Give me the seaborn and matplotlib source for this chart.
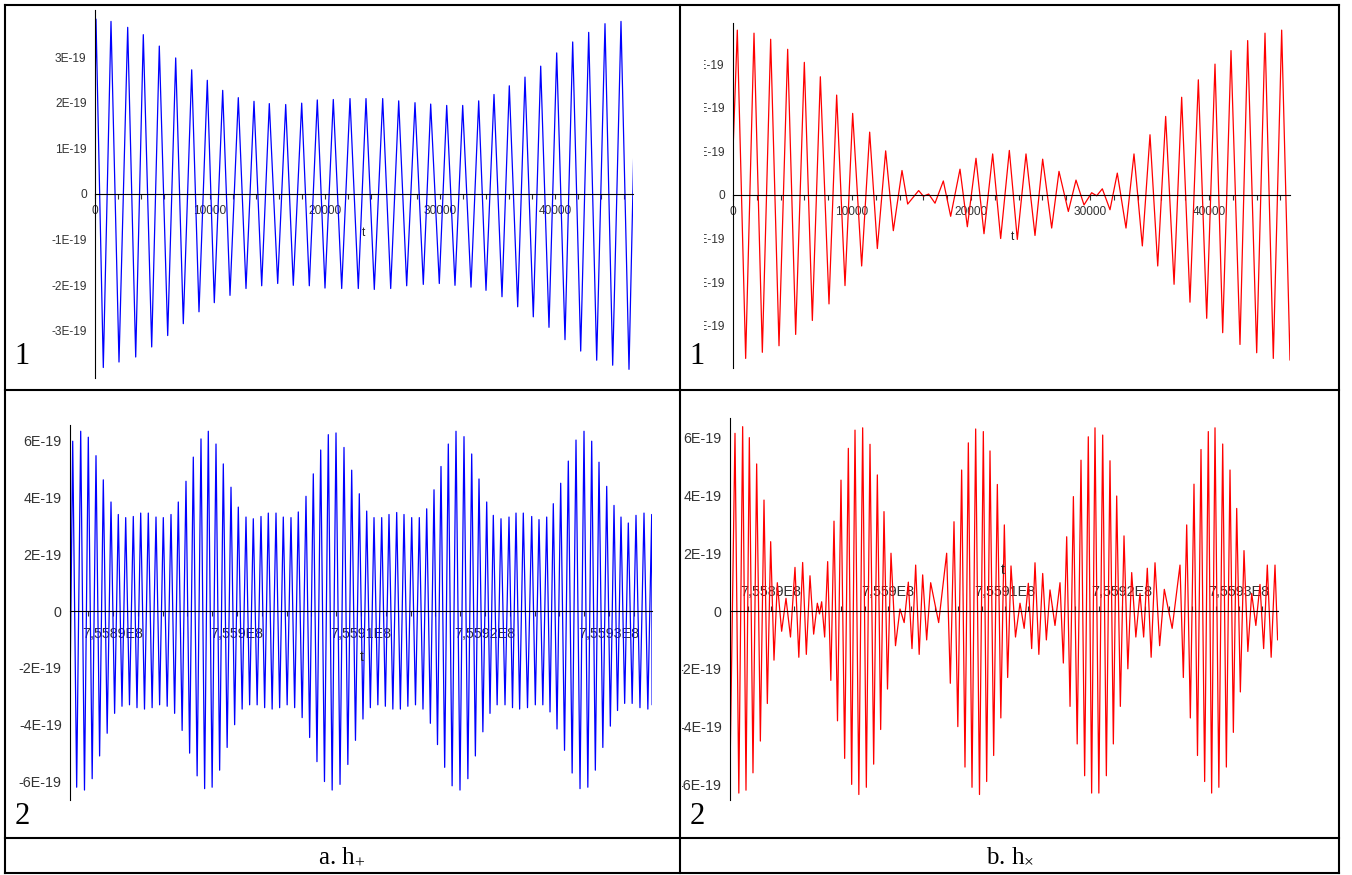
import numpy as np
import pandas as pd
import seaborn as sns
import matplotlib.pyplot as plt
from matplotlib.lines import Line2D
from matplotlib.ticker import FixedLocator, FixedFormatter
from matplotlib.transforms import Bbox

# amplitudes in units of 1E-19 (local maxima / minima)
# panel a.1  (h+, t from 0)
tl_max_t = [87, 1391, 2843, 4200, 5591, 7017, 8409, 9765, 11104, 12461, 13826, 15157, 16583, 17974,
            19330, 20722, 22174, 23565, 25017, 26409, 27826, 29191, 30583, 31974, 33365, 34696,
            36026, 37391, 38757, 40148, 41539, 42930, 44348, 45739]
tl_max_h = [3.83, 3.78, 3.65, 3.49, 3.24, 2.98, 2.72, 2.49, 2.27, 2.11, 2.03, 1.98, 1.96, 1.99,
            2.06, 2.07, 2.09, 2.09, 2.09, 2.04, 2.00, 1.97, 1.94, 1.94, 2.04, 2.18, 2.37, 2.56,
            2.80, 3.09, 3.33, 3.54, 3.73, 3.78]
tl_min_t = [722, 2087, 3539, 4930, 6322, 7678, 9043, 10374, 11739, 13130, 14496, 15887, 17243,
            18635, 20000, 21452, 22896, 24287, 25713, 27104, 28548, 29939, 31304, 32696, 34000,
            35391, 36757, 38113, 39478, 40870, 42235, 43626, 45017, 46435]
tl_min_h = [-3.80, -3.68, -3.57, -3.35, -3.10, -2.84, -2.58, -2.38, -2.22, -2.07, -2.01, -1.96,
            -2.00, -2.01, -2.06, -2.07, -2.07, -2.09, -2.07, -2.01, -1.98, -1.96, -2.00, -2.04,
            -2.11, -2.25, -2.47, -2.69, -2.92, -3.19, -3.44, -3.64, -3.75, -3.84]
tl_end_t = [0, 46850]
tl_end_h = [2.1, 0.93]

# panel b.1  (hx, t from 0)
tr_max_t = [361, 1765, 3165, 4594, 5994, 7340, 8711, 10056, 11485, 12829, 14202, 15602, 16443,
            17675, 19076, 20420, 21821, 23221, 24622, 26022, 27395, 28824, 30140, 31036, 32294,
            33697, 35042, 36358, 37703, 39104, 40504, 41849, 43250, 44706, 46107]
tr_max_h = [3.78, 3.71, 3.57, 3.34, 3.04, 2.71, 2.29, 1.87, 1.44, 1.01, 0.56, 0.10, 0.02, 0.32,
            0.59, 0.84, 0.94, 1.02, 0.94, 0.82, 0.54, 0.34, 0.05, 0.14, 0.50, 0.94, 1.38, 1.80,
            2.24, 2.64, 3.00, 3.31, 3.54, 3.71, 3.78]
tr_min_t = [1064, 2465, 3866, 5266, 6667, 8067, 9412, 10812, 12129, 13473, 14678, 16000, 16975,
            18291, 19692, 21092, 22493, 23893, 25378, 26779, 28179, 29496, 30560, 31681, 33025,
            34398, 35692, 37064, 38403, 39807, 41151, 42605, 44008, 45404, 46807]
tr_min_h = [-3.75, -3.61, -3.46, -3.20, -2.88, -2.50, -2.08, -1.63, -1.23, -0.82, -0.21, -0.03,
            -0.19, -0.49, -0.73, -0.89, -1.00, -1.02, -0.93, -0.76, -0.38, -0.23, -0.02, -0.34,
            -0.76, -1.17, -1.63, -2.05, -2.46, -2.83, -3.16, -3.43, -3.62, -3.75, -3.79]
tr_end_t = [0]
tr_end_h = [1.0]

# panels a.2 / b.2: t = T0 + offset
T0 = 7.5589e8
bl_max_t = [-3250, -2605, -1992, -1371, -782, -161, 427, 1024, 1637, 2234, 2847, 3468, 4057, 4678,
            5266, 5887, 6476, 7097, 7686, 8307, 8896, 9517, 10105, 10726, 11315, 11936, 12525,
            13146, 13734, 14355, 14944, 15565, 16154, 16751, 17364, 17985, 18630, 19251, 19864,
            20461, 21050, 21671, 22259, 22880, 23469, 24090, 24703, 25300, 25889, 26453, 27042,
            27663, 28308, 28929, 29518, 30139, 30671, 31292, 31937, 32502, 33090, 33768, 34357,
            34978, 35510, 36107, 36720, 37341, 37986, 38607, 39196, 39817, 40406, 40970, 41559,
            42180, 42825, 43446]
bl_max_h = [5.98, 6.33, 6.12, 5.47, 4.62, 3.84, 3.40, 3.29, 3.33, 3.45, 3.45, 3.31, 3.29, 3.40,
            3.84, 4.57, 5.42, 6.06, 6.33, 5.88, 5.18, 4.36, 3.66, 3.31, 3.25, 3.33, 3.45, 3.45,
            3.31, 3.29, 3.49, 4.04, 4.83, 5.67, 6.21, 6.27, 5.76, 4.96, 4.13, 3.52, 3.29, 3.29,
            3.40, 3.47, 3.40, 3.29, 3.29, 3.60, 4.27, 5.09, 5.88, 6.33, 6.14, 5.53, 4.65, 3.84,
            3.37, 3.25, 3.31, 3.45, 3.45, 3.33, 3.22, 3.31, 3.78, 4.50, 5.28, 6.02, 6.33, 5.98,
            5.24, 4.39, 3.72, 3.31, 3.10, 3.37, 3.45, 3.40]
bl_min_t = [-3468, -2930, -2300, -1680, -1080, -470, 130, 725, 1330, 1935, 2540, 3155, 3760, 4370,
            4970, 5575, 6180, 6785, 7390, 7995, 8600, 9205, 9810, 10415, 11020, 11625, 12230,
            12835, 13440, 14045, 14650, 15255, 15860, 16450, 17055, 17675, 18310, 18940, 19555,
            20160, 20755, 21360, 21965, 22570, 23175, 23780, 24395, 25000, 25595, 26170, 26750,
            27350, 27985, 28620, 29225, 29830, 30405, 30980, 31615, 32220, 32795, 33430, 34060,
            34665, 35245, 35810, 36415, 37030, 37665, 38295, 38900, 39505, 40110, 40690, 41265,
            41870, 42500, 43135, 43480]
bl_min_h = [-3.0,
            -6.2, -6.3, -5.9, -5.1, -4.3, -3.6, -3.35, -3.3, -3.4, -3.45,
            -3.4, -3.3, -3.35, -3.6, -4.2, -5.0, -5.8, -6.25, -6.2, -5.6,
            -4.8, -4.0, -3.45, -3.3, -3.3, -3.4, -3.45, -3.4, -3.3, -3.4,
            -3.75, -4.45, -5.3, -6.0, -6.3, -6.1, -5.4, -4.55, -3.8, -3.4,
            -3.3, -3.35, -3.45, -3.45, -3.35, -3.3, -3.45, -3.95, -4.7, -5.5,
            -6.15, -6.3, -5.9, -5.1, -4.25, -3.6, -3.3, -3.3, -3.4, -3.45,
            -3.4, -3.3, -3.3, -3.55, -4.15, -4.9, -5.7, -6.25, -6.2, -5.6,
            -4.8, -4.05, -3.5, -3.25, -3.25, -3.4, -3.45,
            -3.3]

br_max_t = [-3077, -2422, -1852, -1225, -598, -28, 541, 1282, 2051, 2706, 3333, 3960, 4330, 4843,
            5385, 5983, 6610, 7180, 7835, 8462, 9089, 9658, 10256, 11026, 11738, 12365, 12963,
            13647, 15014, 15641, 16295, 16866, 17493, 18148, 18718, 19345, 19943, 20513, 21282,
            21994, 22564, 23222, 23846, 24701, 25273, 25845, 26496, 27119, 27692, 28350, 28974,
            29546, 30171, 30829, 31538, 32162, 32821, 33616, 34957, 35530, 36153, 36752, 37376,
            37949, 38607, 39231, 39803, 40427, 41085, 41794, 42419, 43077]
br_max_h = [6.15, 6.38, 6.00, 5.09, 3.84, 2.40, 0.98, 0.44, 1.51, 1.68, 1.22, 0.27, 0.32, 1.71,
            3.11, 4.53, 5.63, 6.26, 6.34, 5.77, 4.71, 3.44, 2.00, 0.07, 1.00, 1.59, 1.25, 0.98,
            2.00, 3.09, 4.88, 5.82, 6.30, 6.21, 5.54, 4.38, 2.98, 1.56, 0.27, 0.96, 1.67, 1.30,
            0.73, 0.98, 2.57, 3.96, 5.22, 6.03, 6.34, 6.09, 5.20, 3.98, 2.60, 1.33, 0.61, 1.48,
            1.67, 0.75, 1.59, 2.98, 4.39, 5.59, 6.21, 6.34, 5.78, 4.88, 3.55, 2.09, 0.61, 0.92,
            1.59, 1.59]
br_min_t = [-3504, -2750, -2137, -1540, -910, -313, 256, 910, 1666, 2378, 3020, 3646, 4145, 4586,
            5114, 5684, 6296, 6895, 7507, 8148, 8775, 9373, 9957, 10641, 11382, 12051, 12664,
            13305, 14330, 15327, 15968, 16580, 17180, 17820, 18433, 19031, 19644, 20228, 20897,
            21638, 22279, 22893, 23534, 24273, 24987, 25559, 26170, 26807, 27405, 28021, 28662,
            29260, 29858, 30500, 31183, 31850, 32491, 33218, 34286, 35243, 35841, 36452, 37064,
            37662, 38278, 38919, 39517, 40115, 40756, 41440, 42106, 42748, 43300]
br_min_h = [-5.6, -6.3, -6.2, -5.6, -4.5, -3.2, -1.7, -0.7, -0.9, -1.6, -1.5, -0.8, -0.1, -0.9,
            -2.4, -3.8, -5.1, -6.0, -6.35, -6.1, -5.3, -4.1, -2.7, -1.2, -0.4, -1.3, -1.5, -1.0,
            -0.4, -2.5, -4.0, -5.4, -6.1, -6.35, -5.9, -5.0, -3.7, -2.3, -0.9, -0.6, -1.3, -1.5,
            -1.0, -0.5, -1.8, -3.3, -4.6, -5.7, -6.3, -6.3, -5.7, -4.6, -3.3, -2.0, -0.9, -0.9,
            -1.6, -1.2, -0.6, -2.3, -3.7, -5.0, -5.9, -6.3, -6.1, -5.4, -4.2, -2.8, -1.4, -0.5,
            -1.3, -1.6, -1.0]

top_xticks = [0, 10000, 20000, 30000, 40000]
top_xlabels = ["0", "10000", "20000", "30000", "40000"]
bot_xticks = [0, 10000, 20000, 30000, 40000]
bot_xlabels = ["7,5589E8", "7,559E8", "7,5591E8", "7,5592E8", "7,5593E8"]
top_yticks = [-3, -2, -1, 0, 1, 2, 3]
top_ylabels = ["-3E-19", "-2E-19", "-1E-19", "0", "1E-19", "2E-19", "3E-19"]
bot_yticks = [-6, -4, -2, 0, 2, 4, 6]
bot_ylabels = ["-6E-19", "-4E-19", "-2E-19", "0", "2E-19", "4E-19", "6E-19"]
captions = ["a. h$_{+}$", "b. h$_{\\times}$"]

sns.set_style("white")
plt.rcParams["font.family"] = ["Liberation Sans", "DejaVu Sans"]
plt.rcParams["mathtext.fontset"] = "custom"
plt.rcParams["mathtext.rm"] = "Liberation Serif"
plt.rcParams["mathtext.default"] = "rm"

W, H = 1352, 875
fig = plt.figure(figsize=(W / 100, H / 100), dpi=100)
fig.patch.set_facecolor("white")


def add_axes(x0, x1, y0, y1):
    # pixel box -> figure fraction
    return fig.add_axes([x0 / W, 1 - y1 / H, (x1 - x0) / W, (y1 - y0) / H])


def wave(ax, parts, color, base=0.0):
    t = np.concatenate([np.asarray(p[0], float) for p in parts]) + base
    h = np.concatenate([np.asarray(p[1], float) for p in parts]) * 1e-19
    df = pd.DataFrame({"t": t, "h": h}).sort_values("t")
    sns.lineplot(data=df, x="t", y="h", ax=ax, color=color, lw=0.9,
                 estimator=None, sort=False)
    ax.set_xlabel("")
    ax.set_ylabel("")


def style(ax, xlim, ylim, xt, xl, xminor, yt, yl, yminor, up=False, xpad=4.5,
          base=0.0, fs=8.6):
    ax.set_xlim(xlim)
    ax.set_ylim(ylim)
    ax.patch.set_alpha(0)
    xs = "top" if up else "bottom"
    for s in ["right", "top", "bottom"]:
        ax.spines[s].set_visible(s == xs)
    # x axis drawn through h = 0
    ax.spines[xs].set_position(("axes", -ylim[0] / (ylim[1] - ylim[0])))
    for s in ["left", xs]:
        ax.spines[s].set_linewidth(0.8)
        ax.spines[s].set_color("black")
    ax.xaxis.set_ticks_position(xs)
    ax.xaxis.set_major_locator(FixedLocator([base + v for v in xt]))
    ax.xaxis.set_major_formatter(FixedFormatter(xl))
    ax.xaxis.set_minor_locator(FixedLocator(xminor))
    ax.yaxis.set_major_locator(FixedLocator([v * 1e-19 for v in yt]))
    ax.yaxis.set_major_formatter(FixedFormatter(yl))
    ax.yaxis.set_minor_locator(FixedLocator(yminor))
    ax.tick_params(axis="x", which="both", direction="out", length=3.6, width=0.8,
                   color="#333333", labelsize=fs, labelcolor="#333333", pad=xpad,
                   labeltop=up, labelbottom=not up)
    ax.tick_params(axis="y", which="both", direction="out", length=3.6, width=0.8,
                   color="#333333", labelsize=fs, labelcolor="#333333", pad=2.4)


# a.1
ax1 = add_axes(95, 633, 10, 378)
wave(ax1, [(tl_max_t, tl_max_h), (tl_min_t, tl_min_h), (tl_end_t, tl_end_h)], "#0000ff")
style(ax1, (0, 46783), (-4.03e-19, 4.03e-19), top_xticks, top_xlabels,
      np.arange(0, 46001, 2000), top_yticks, top_ylabels, np.arange(-4, 4.01, 0.2) * 1e-19)

# b.1
ax2 = add_axes(733, 1290, 22.7, 368)
wave(ax2, [(tr_max_t, tr_max_h), (tr_min_t, tr_min_h), (tr_end_t, tr_end_h)], "#ff0000")
style(ax2, (0, 46807), (-3.97e-19, 3.95e-19), top_xticks, top_xlabels,
      np.arange(0, 46001, 2000), top_yticks, top_ylabels, np.arange(-3.8, 3.81, 0.2) * 1e-19)

# a.2
ax3 = add_axes(70, 652, 425, 800)
wave(ax3, [(bl_max_t, bl_max_h), (bl_min_t, bl_min_h)], "#0000ff", base=T0)
style(ax3, (T0 - 3468, T0 + 43470), (-6.65e-19, 6.55e-19), bot_xticks, bot_xlabels,
      T0 + np.arange(-2000, 43001, 2000), bot_yticks, bot_ylabels,
      np.arange(-6.4, 6.41, 0.4) * 1e-19, xpad=8.0, base=T0, fs=10.3)

# b.2
ax4 = add_axes(730, 1278, 418, 800)
wave(ax4, [(br_max_t, br_max_h), (br_min_t, br_min_h)], "#ff0000", base=T0)
style(ax4, (T0 - 3504, T0 + 43333), (-6.54e-19, 6.68e-19), bot_xticks, bot_xlabels,
      T0 + np.arange(-2000, 43001, 2000), bot_yticks, bot_ylabels,
      np.arange(-6.4, 6.41, 0.4) * 1e-19, up=True, xpad=4.7, base=T0, fs=10.3)

# the right-hand pictures were cropped at their left side
fig.canvas.draw()
for ax, xc in [(ax2, 704), (ax4, 682)]:
    for lab in ax.get_yticklabels():
        lab.set_clip_on(True)
        lab.set_clip_box(Bbox.from_extents(xc, 0, W, H))

# axis names "t"
for x, y, fs in [(364, 233, 8.6), (1013, 237, 8.6), (362, 657, 10), (1003, 570, 10)]:
    fig.text(x / W, 1 - y / H, "t", ha="center", va="center", fontsize=fs, color="#222222")

# table frame
def hline(y, x0=5, x1=1339):
    fig.add_artist(Line2D([x0 / W, x1 / W], [1 - y / H, 1 - y / H], color="black", lw=1.5,
                          transform=fig.transFigure, solid_capstyle="projecting"))


def vline(x, y0=5, y1=873):
    fig.add_artist(Line2D([x / W, x / W], [1 - y0 / H, 1 - y1 / H], color="black", lw=1.5,
                          transform=fig.transFigure, solid_capstyle="projecting"))


for y in [5, 390, 838, 873]:
    hline(y)
for x in [5, 679.5, 1339]:
    vline(x)

# panel numbers and captions
for x, y, s in [(22, 357, "1"), (697, 357, "1"), (22, 817, "2"), (697, 817, "2")]:
    fig.text(x / W, 1 - y / H, s, ha="center", va="center", fontsize=22,
             family="Liberation Serif", color="black")
for x, s in [(342, captions[0]), (1010, captions[1])]:
    fig.text(x / W, 1 - 857 / H, s, ha="center", va="center", fontsize=18,
             family="Liberation Serif", color="black")

fig.savefig("out.png", dpi=100, facecolor="white")
